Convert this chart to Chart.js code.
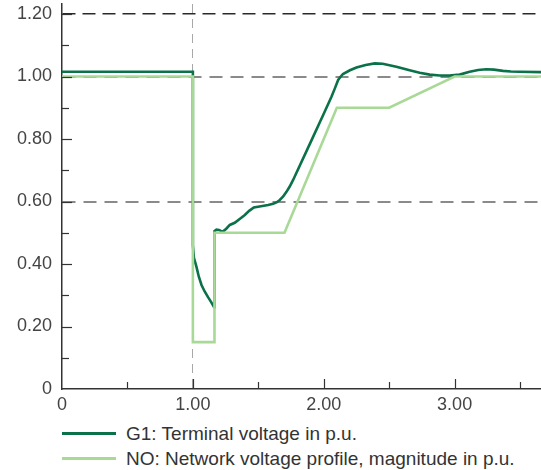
<!DOCTYPE html>
<html>
<head>
<meta charset="utf-8">
<script src="https://cdn.jsdelivr.net/npm/chart.js@4"></script>
<style>
  body { margin: 0; background: #fff; font-family: 'Liberation Sans', Arial, sans-serif; }
  #wrap { position: relative; width: 541px; height: 470px; }
  #leyenda { position: absolute; left: 62px; top: 421px; color: #333; font-size: 19px; }
  .fila { height: 25px; display: flex; align-items: center; }
  .linea { display: inline-block; width: 54px; height: 3px; margin-right: 10px; }
</style>
</head>
<body>
<div id="wrap">
  <canvas id="grafico" width="541" height="420"></canvas>
  <div id="leyenda"></div>
</div>
<script>
// G1: tension en bornes (p.u.)
const g1X = [0, 1.0, 1.0, 1.008, 1.028, 1.045, 1.066, 1.09, 1.117, 1.14, 1.162, 1.165, 1.18, 1.2, 1.227, 1.255, 1.282, 1.32, 1.36, 1.397, 1.43, 1.466, 1.52, 1.575, 1.613, 1.639, 1.664, 1.69, 1.715, 1.74, 1.766, 1.9, 2.0, 2.059, 2.085, 2.11, 2.13, 2.147, 2.2, 2.25, 2.32, 2.39, 2.45, 2.555, 2.656, 2.733, 2.81, 2.885, 2.96, 3.038, 3.115, 3.18, 3.242, 3.3, 3.37, 3.43, 3.496, 3.66];
const g1Y = [1.015, 1.015, 0.46, 0.42, 0.39, 0.36, 0.333, 0.312, 0.293, 0.278, 0.262, 0.505, 0.51, 0.509, 0.503, 0.513, 0.525, 0.532, 0.545, 0.557, 0.57, 0.581, 0.585, 0.589, 0.593, 0.597, 0.605, 0.616, 0.631, 0.648, 0.669, 0.79, 0.881, 0.935, 0.962, 0.989, 1.0, 1.008, 1.02, 1.029, 1.037, 1.042, 1.041, 1.031, 1.02, 1.012, 1.006, 1.003, 1.003, 1.006, 1.015, 1.021, 1.023, 1.022, 1.018, 1.016, 1.015, 1.014];
// NO: perfil de tension de red (p.u.)
const noX = [0, 1.0, 1.0, 1.165, 1.165, 1.7, 2.1, 2.5, 3.0, 3.66];
const noY = [1.0, 1.0, 0.15, 0.15, 0.5, 0.5, 0.9, 0.9, 1.0, 1.0];
// ticks
const xTicks = [0, 0.5, 1, 1.5, 2, 2.5, 3, 3.5];
const xLabels = {0: '0', 1: '1.00', 2: '2.00', 3: '3.00'};
const yTicks = [0, 0.1, 0.2, 0.3, 0.4, 0.5, 0.6, 0.7, 0.8, 0.9, 1.0, 1.1, 1.2];
const yLabels = {0: '0', 2: '0.20', 4: '0.40', 6: '0.60', 8: '0.80', 10: '1.00', 12: '1.20'};

const verde = '#0a7149';
const verdeClaro = '#a9d996';
const fuente = { family: "'Liberation Sans', Arial, sans-serif", size: 18 };

const toPts = (xs, ys) => xs.map((x, i) => ({x: x, y: ys[i]}));

// marcas de ticks hacia adentro
const ticksAdentro = {
  id: 'ticksAdentro',
  afterDraw(chart) {
    const {ctx, scales: {x, y}, chartArea} = chart;
    ctx.save();
    ctx.strokeStyle = '#333';
    ctx.lineWidth = 1.2;
    xTicks.forEach(v => {
      if (v === 0) return;
      const px = Math.round(x.getPixelForValue(v)) + 0.5;
      const largo = Number.isInteger(v) ? 10 : 7;
      ctx.beginPath();
      ctx.moveTo(px, chartArea.bottom);
      ctx.lineTo(px, chartArea.bottom - largo);
      ctx.stroke();
    });
    yTicks.forEach(v => {
      if (v === 0) return;
      const py = Math.round(y.getPixelForValue(v)) + 0.5;
      const largo = Math.round(v * 10) % 2 === 0 ? 10 : 7;
      ctx.beginPath();
      ctx.moveTo(chartArea.left, py);
      ctx.lineTo(chartArea.left + largo, py);
      ctx.stroke();
    });
    ctx.restore();
  }
};

const chart = new Chart(document.getElementById('grafico'), {
  type: 'line',
  data: {
    datasets: [{
      label: 'G1: Terminal voltage in p.u.',
      data: toPts(g1X, g1Y),
      borderColor: verde,
      borderWidth: 2.6,
      pointRadius: 0,
      tension: 0,
      order: 2
    }, {
      label: 'NO: Network voltage profile, magnitude in p.u.',
      data: toPts(noX, noY),
      borderColor: verdeClaro,
      borderWidth: 2.6,
      pointRadius: 0,
      tension: 0,
      order: 1
    }]
  },
  options: {
    responsive: false,
    animation: false,
    layout: { padding: { top: 4, right: 0, left: 0, bottom: 0 } },
    plugins: { legend: { display: false }, tooltip: { enabled: false } },
    scales: {
      x: {
        type: 'linear',
        min: 0,
        max: 3.66,
        afterFit(s) { s.height = 31; s.paddingLeft = 0; s.paddingRight = 0; },
        ticks: {
          stepSize: 0.5,
          includeBounds: false,
          autoSkip: false,
          maxRotation: 0,
          padding: 5,
          color: '#444',
          font: fuente,
          callback: v => xLabels[v] !== undefined ? xLabels[v] : ''
        },
        grid: {
          drawTicks: false,
          color: c => (c.tick && c.tick.value === 1) ? '#a8a8a8' : 'transparent',
          lineWidth: 1
        },
        border: { display: true, color: '#333', width: 1.5, dash: c => (c.tick ? [9, 6] : []) }
      },
      y: {
        min: 0,
        max: 1.232,
        afterFit(s) { s.width = 62; s.paddingTop = 0; s.paddingBottom = 0; },
        ticks: {
          stepSize: 0.1,
          includeBounds: false,
          autoSkip: false,
          padding: 10,
          color: '#444',
          font: fuente,
          callback: v => {
            const k = Math.round(v * 10);
            return yLabels[k] !== undefined ? yLabels[k] : '';
          }
        },
        grid: {
          drawTicks: false,
          color: c => {
            if (!c.tick) return 'transparent';
            const k = Math.round(c.tick.value * 10);
            if (k === 12) return '#2a2a2a';
            if (k === 10 || k === 6) return '#8a8a8a';
            return 'transparent';
          },
          lineWidth: c => {
            if (!c.tick) return 1;
            const k = Math.round(c.tick.value * 10);
            return k === 12 ? 1.5 : 2;
          }
        },
        border: {
          display: true, color: '#333', width: 1.5,
          dash: c => {
            if (!c.tick) return [];
            return Math.round(c.tick.value * 10) === 12 ? [13, 7] : [13, 8];
          }
        }
      }
    }
  },
  plugins: [ticksAdentro]
});

// leyenda en HTML, en el orden del grafico original
const leyenda = document.getElementById('leyenda');
chart.data.datasets.forEach(ds => {
  const fila = document.createElement('div');
  fila.className = 'fila';
  const linea = document.createElement('span');
  linea.className = 'linea';
  linea.style.background = ds.borderColor;
  const texto = document.createElement('span');
  texto.textContent = ds.label;
  fila.appendChild(linea);
  fila.appendChild(texto);
  leyenda.appendChild(fila);
});
</script>
</body>
</html>
